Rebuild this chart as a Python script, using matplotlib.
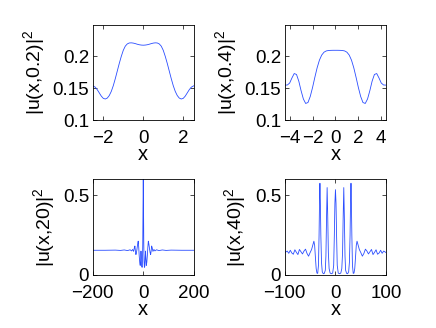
import numpy as np
import matplotlib
matplotlib.use('Agg')
import matplotlib.pyplot as plt

plt.rcParams['font.family'] = ['Liberation Sans', 'DejaVu Sans']
plt.rcParams['mathtext.fontset'] = 'custom'
plt.rcParams['mathtext.rm'] = 'Liberation Sans'
plt.rcParams['mathtext.it'] = 'Liberation Sans'

# |u(x,0.2)|^2
x1 = [-2.54, -2.4, -2.3, -2.2, -2.1, -2.0, -1.9, -1.8, -1.7, -1.6, -1.5, -1.4, -1.3,
      -1.2, -1.1, -1.0, -0.9, -0.8, -0.7, -0.6, -0.5, -0.4, -0.3, -0.2, -0.1, 0.0,
      0.1, 0.2, 0.3, 0.4, 0.5, 0.6, 0.7, 0.8, 0.9, 1.0, 1.1, 1.2, 1.3,
      1.4, 1.5, 1.6, 1.7, 1.8, 1.9, 2.0, 2.1, 2.2, 2.3, 2.4, 2.54]
y1 = [0.1540, 0.1515, 0.1475, 0.1425, 0.1375, 0.1340, 0.1330, 0.1345, 0.1385, 0.1450,
      0.1540, 0.1650, 0.1770, 0.1890, 0.2000, 0.2095, 0.2160, 0.2195, 0.2210, 0.2212,
      0.2208, 0.2200, 0.2190, 0.2182, 0.2177, 0.2175,
      0.2177, 0.2182, 0.2190, 0.2200, 0.2208, 0.2212, 0.2210, 0.2195, 0.2160, 0.2095,
      0.2000, 0.1890, 0.1770, 0.1650, 0.1540, 0.1450, 0.1385, 0.1345, 0.1330, 0.1340,
      0.1375, 0.1425, 0.1475, 0.1515, 0.1540]

# |u(x,0.4)|^2
x2 = [-4.43, -4.2, -4.0, -3.8, -3.6, -3.4, -3.2, -3.0, -2.8, -2.6, -2.4, -2.2, -2.0,
      -1.8, -1.6, -1.4, -1.2, -1.0, -0.8, -0.6, -0.4, -0.2, 0.0,
      0.2, 0.4, 0.6, 0.8, 1.0, 1.2, 1.4, 1.6, 1.8, 2.0, 2.2, 2.4, 2.6, 2.8,
      3.0, 3.2, 3.4, 3.6, 3.8, 4.0, 4.2, 4.43]
y2 = [0.1548, 0.1550, 0.1580, 0.1660, 0.1730, 0.1715, 0.1610, 0.1460, 0.1330, 0.1260,
      0.1275, 0.1370, 0.1510, 0.1670, 0.1820, 0.1940, 0.2020, 0.2065, 0.2085, 0.2092,
      0.2094, 0.2095, 0.2095,
      0.2095, 0.2094, 0.2092, 0.2085, 0.2065, 0.2020, 0.1940, 0.1820, 0.1670, 0.1510,
      0.1370, 0.1275, 0.1260, 0.1330, 0.1460, 0.1610, 0.1715, 0.1730, 0.1660, 0.1580,
      0.1550, 0.1548]

# |u(x,20)|^2
x3 = [-200, -150, -110, -90, -75, -62, -52, -46, -42, -38, -35, -33, -31, -29, -27,
      -25, -22, -20, -18, -16, -14, -12, -10.5, -9, -7.5, -6, -4.5, -3, -2, -1, 0,
      1, 2, 3, 4.5, 6, 7.5, 9, 10.5, 12, 14, 16, 18, 20, 22, 25, 27, 29, 31, 33, 35,
      38, 42, 46, 52, 62, 75, 90, 110, 150, 200]
y3 = [0.155, 0.155, 0.156, 0.154, 0.157, 0.153, 0.158, 0.151, 0.160, 0.148, 0.172,
      0.182, 0.150, 0.128, 0.140, 0.160, 0.195, 0.212, 0.175, 0.120, 0.080, 0.060,
      0.100, 0.150, 0.110, 0.055, 0.048, 0.090, 0.200, 0.420, 0.600,
      0.420, 0.200, 0.090, 0.048, 0.055, 0.110, 0.150, 0.100, 0.060, 0.080, 0.120,
      0.175, 0.212, 0.195, 0.160, 0.140, 0.128, 0.150, 0.182, 0.172, 0.148, 0.160,
      0.151, 0.158, 0.153, 0.157, 0.154, 0.156, 0.155, 0.155]

# |u(x,40)|^2
x4 = [-100, -97, -95, -92, -89, -86, -83, -80, -77, -74, -71, -68, -65, -62, -59, -56,
      -53, -50, -47, -44, -42.5, -41, -39.5, -38, -36.5, -35, -33.5, -32.3, -31.3,
      -30.6, -29.8, -28.8, -27.5, -26, -24, -22, -20, -18.8, -17.6, -16.4, -15.3, -14,
      -12.5, -10.5, -8, -5.5, -3.5, -2.2, -1.1, 0,
      1.1, 2.2, 3.5, 5.5, 8, 10.5, 12.5, 14, 15.3, 16.4, 17.6, 18.8, 20, 22, 24, 26,
      27.5, 28.8, 29.8, 30.6, 31.3, 32.3, 33.5, 35, 36.5, 38, 39.5, 41, 42.5, 44, 47,
      50, 53, 56, 59, 62, 65, 68, 71, 74, 77, 80, 83, 86, 89, 92, 95, 97, 100]
y4 = [0.140, 0.146, 0.150, 0.136, 0.155, 0.138, 0.130, 0.158, 0.142, 0.128, 0.160,
      0.146, 0.132, 0.150, 0.162, 0.135, 0.118, 0.140, 0.160, 0.195, 0.212, 0.185,
      0.110, 0.040, 0.012, 0.010, 0.060, 0.250, 0.480, 0.575, 0.470, 0.250, 0.080,
      0.020, 0.008, 0.010, 0.030, 0.120, 0.350, 0.548, 0.380, 0.140, 0.040, 0.012,
      0.008, 0.012, 0.060, 0.250, 0.450, 0.535,
      0.450, 0.250, 0.060, 0.012, 0.008, 0.012, 0.040, 0.140, 0.380, 0.548, 0.350,
      0.120, 0.030, 0.010, 0.008, 0.020, 0.080, 0.250, 0.470, 0.575, 0.480, 0.250,
      0.060, 0.010, 0.012, 0.040, 0.110, 0.185, 0.212, 0.195, 0.160, 0.140, 0.118,
      0.135, 0.162, 0.150, 0.132, 0.146, 0.160, 0.128, 0.142, 0.158, 0.130, 0.138,
      0.155, 0.136, 0.150, 0.146, 0.140]

panels = [
    (x1, y1, (-2.54, 2.54), (0.1, 0.25), [-2, 0, 2], [0.1, 0.15, 0.2], ['0.1', '0.15', '0.2'], '0.2'),
    (x2, y2, (-4.43, 4.43), (0.1, 0.25), [-4, -2, 0, 2, 4], [0.1, 0.15, 0.2], ['0.1', '0.15', '0.2'], '0.4'),
    (x3, y3, (-200, 200), (0, 0.6), [-200, 0, 200], [0, 0.5], ['0', '0.5'], '20'),
    (x4, y4, (-100, 100), (0, 0.6), [-100, 0, 100], [0, 0.5], ['0', '0.5'], '40'),
]
rects = [
    [0.2122, 0.6341, 0.2328, 0.2912],
    [0.6530, 0.6341, 0.2328, 0.2912],
    [0.2122, 0.1616, 0.2328, 0.2918],
    [0.6530, 0.1616, 0.2328, 0.2918],
]
ylab_x = [-0.45, -0.454, -0.353, -0.362]

fig = plt.figure(figsize=(4.36, 3.28), dpi=100)
for (x, y, xl, yl, xt, yt, ytl, t), r, lx in zip(panels, rects, ylab_x):
    ax = fig.add_axes(r)
    ax.plot(x, y, color='#2a4dff', lw=0.6)
    ax.set_xlim(xl)
    ax.set_ylim(yl)
    ax.set_xticks(xt)
    ax.set_yticks(yt)
    ax.set_yticklabels(ytl)
    ax.tick_params(direction='in', top=True, right=True, length=3, width=0.5,
                   labelsize=13.5, pad=2.5)
    ax.tick_params(axis='x', pad=7)
    for s in ax.spines.values():
        s.set_linewidth(0.6)
    ax.set_xlabel('x', fontsize=14.5)
    ax.set_ylabel('|u(x,' + t + ')|$^2$', fontsize=14)
    ax.xaxis.set_label_coords(0.5, -0.265)
    ax.yaxis.set_label_coords(lx, 0.5)

fig.savefig('out.png', dpi=100)
